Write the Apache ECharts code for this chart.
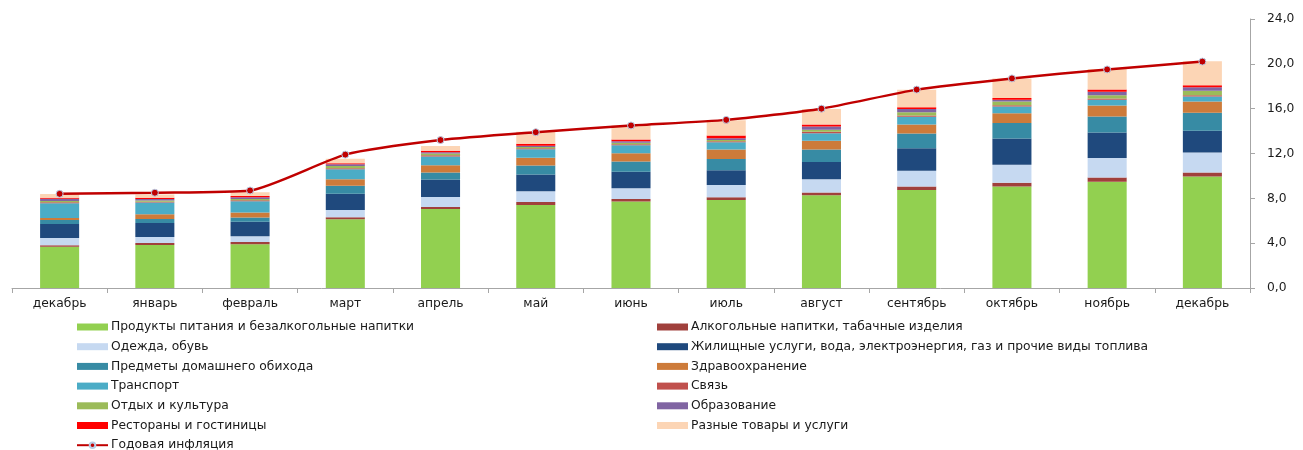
<!DOCTYPE html>
<html><head><meta charset="utf-8">
<script src="https://cdn.jsdelivr.net/npm/echarts@6/dist/echarts.min.js"></script>
<style>html,body{margin:0;padding:0;background:#fff}#c{width:1303px;height:450px}</style>
</head><body><div id="c"></div>
<script>
const categories = ['декабрь','январь','февраль','март','апрель','май','июнь','июль','август','сентябрь','октябрь','ноябрь','декабрь'];
const seriesNames = [
  'Продукты питания и безалкогольные напитки',
  'Алкогольные напитки, табачные изделия',
  'Одежда, обувь',
  'Жилищные услуги, вода, электроэнергия, газ и прочие виды топлива',
  'Предметы домашнего обихода',
  'Здравоохранение',
  'Транспорт',
  'Связь',
  'Отдых и культура',
  'Образование',
  'Рестораны и гостиницы',
  'Разные товары и услуги'
];
const lineName = 'Годовая инфляция';
const food        = [3.69,3.84,3.90,6.13,7.05,7.41,7.71,7.86,8.27,8.75,9.05,9.49,9.94];
const alcohol     = [0.12,0.18,0.20,0.18,0.18,0.27,0.24,0.24,0.24,0.30,0.35,0.36,0.36];
const clothing    = [0.65,0.53,0.51,0.65,0.90,0.95,0.95,1.10,1.19,1.40,1.60,1.75,1.78];
const housing     = [1.25,1.25,1.31,1.46,1.54,1.49,1.48,1.30,1.55,2.02,2.33,2.27,1.96];
const household   = [0.36,0.36,0.36,0.71,0.63,0.80,0.90,1.02,1.10,1.31,1.40,1.43,1.59];
const health      = [0.18,0.42,0.45,0.57,0.65,0.71,0.74,0.83,0.78,0.80,0.87,0.98,1.00];
const transport   = [1.31,1.04,1.01,0.90,0.78,0.75,0.72,0.65,0.68,0.69,0.59,0.51,0.45];
const communication=[0.09,0.08,0.09,0.08,0.12,0.09,0.09,0.10,0.12,0.12,0.11,0.11,0.12];
const recreation  = [0.12,0.10,0.12,0.20,0.15,0.12,0.12,0.11,0.20,0.29,0.34,0.30,0.39];
const education   = [0.20,0.15,0.15,0.15,0.12,0.11,0.15,0.15,0.27,0.30,0.15,0.30,0.33];
const restaurants = [0.09,0.10,0.10,0.10,0.13,0.16,0.14,0.24,0.18,0.15,0.17,0.21,0.18];
const misc        = [0.33,0.30,0.34,0.40,0.42,1.07,1.25,1.37,1.40,1.55,1.73,1.82,2.14];
const inflation   = [8.4,8.5,8.7,11.9,13.2,13.9,14.5,15.0,16.0,17.7,18.7,19.5,20.2];
const yTicks = {min:0, max:24, interval:4};

const barData = [food,alcohol,clothing,housing,household,health,transport,communication,recreation,education,restaurants,misc];
const colors = ['#92D050','#A0403C','#C6D9F1','#1F497D','#378BA4','#CD7B3A','#4BACC6','#C0504D','#9BBB59','#8064A2','#FF0000','#FCD5B5'];

const series = barData.map((d,i)=>({
  name: seriesNames[i], type:'bar', stack:'s', data:d, barWidth:'41%',
  itemStyle:{color:colors[i]}, yAxisIndex:0
}));
series.push({
  name: lineName, type:'line', data: inflation, smooth:0.2, symbol:'circle', symbolSize:7,
  lineStyle:{color:'#C00000', width:2.5},
  itemStyle:{color:'#C00000', borderColor:'#B9CDE5', borderWidth:1}, z:10
});

const txt = {fontFamily:'DejaVu Sans', fontSize:12.3, color:'#1a1a1a'};
const legendCommon = {orient:'vertical', top:321, padding:0, height:140, itemWidth:31, itemHeight:7, itemGap:7.7,
  textStyle:Object.assign({padding:[0,0,0,-2]}, txt)};
const leg = (left, items) => Object.assign({}, legendCommon, {left:left,
  data: items.map(n => n === lineName ? {name:n} : {name:n, icon:'rect'})});
const chart = echarts.init(document.getElementById('c'), null, {renderer:'canvas'});
chart.setOption({
  animation:false,
  grid:{left:12, right:53, top:19, bottom:162, containLabel:false},
  xAxis:{type:'category', data:categories, boundaryGap:true,
    axisLine:{lineStyle:{color:'#A6A6A6'}},
    axisTick:{show:true, alignWithLabel:false, length:5, lineStyle:{color:'#A6A6A6'}},
    axisLabel:Object.assign({margin:10, interval:0}, txt)},
  yAxis:{type:'value', position:'right', min:yTicks.min, max:yTicks.max, interval:yTicks.interval,
    splitLine:{show:false},
    axisLine:{show:true, lineStyle:{color:'#A6A6A6'}},
    axisTick:{show:true, length:5, lineStyle:{color:'#A6A6A6'}},
    axisLabel:Object.assign({margin:17, formatter:v=>v.toFixed(1).replace('.',',')}, txt)},
  legend:[
    leg(76, [seriesNames[0],seriesNames[2],seriesNames[4],seriesNames[6],seriesNames[8],seriesNames[10],lineName]),
    leg(657, [seriesNames[1],seriesNames[3],seriesNames[5],seriesNames[7],seriesNames[9],seriesNames[11]])
  ],
  series: series
});
</script></body></html>
